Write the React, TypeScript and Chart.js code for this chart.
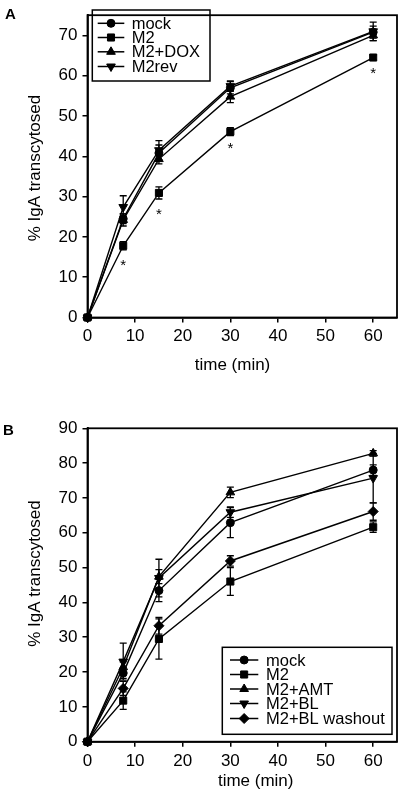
import React, { useEffect, useRef } from "react";
import { Chart, registerables } from "chart.js";

Chart.register(...registerables);

const FONT = '"Liberation Sans", Arial, Helvetica, sans-serif';

// ---------- data ----------
const timeMin = [0, 7.5, 15, 30, 60];
const xTickValues = [0, 10, 20, 30, 40, 50, 60];
const yTickValuesA = [0, 10, 20, 30, 40, 50, 60, 70];
const yTickValuesB = [0, 10, 20, 30, 40, 50, 60, 70, 80, 90];

// Panel A
const aMock = [0, 24.5, 40.8, 57.0, 70.8];
const aMockErr = [0, 1.2, 2.0, 1.5, 1.5];
const aM2 = [0, 17.8, 30.9, 46.1, 64.5];
const aM2Err = [0, 1.0, 1.5, 1.0, 0.6];
const aM2Dox = [0, 24.2, 39.3, 54.8, 70.0];
const aM2DoxErr = [0, 1.5, 1.2, 1.5, 1.3];
const aM2Rev = [0, 27.4, 41.5, 57.4, 71.0];
const aM2RevErr = [0, 2.8, 2.4, 1.3, 2.3];
const aStarTime = [7.5, 15, 30, 60];
const aStarValue = [13.8, 26.5, 43.0, 61.5];
const aYMax = 75;

// Panel B
const bMock = [0, 19.7, 43.4, 62.9, 78.0];
const bMockErr = [0, 1.5, 3.2, 4.3, 1.5];
const bM2 = [0, 11.8, 29.5, 46.0, 61.6];
const bM2Err = [0, 2.5, 5.8, 4.0, 1.5];
const bAmt = [0, 21.4, 47.4, 71.6, 82.8];
const bAmtErr = [0, 1.5, 2.0, 1.5, 0.8];
const bBl = [0, 23.0, 47.0, 65.9, 75.7];
const bBlErr = [0, 5.3, 5.4, 1.5, 7.1];
const bWash = [0, 15.3, 33.3, 51.9, 66.1];
const bWashErr = [0, 2.0, 2.4, 1.5, 2.5];
const bYMax = 90;

const xMax = 65;

const yTitle = "% IgA transcytosed";
const xTitle = "time (min)";

type Series = {
  label: string;
  values: number[];
  errors: number[];
  pointStyle: string;
  rotation: number;
  radius: number;
};

const seriesA: Series[] = [
  { label: "mock", values: aMock, errors: aMockErr, pointStyle: "circle", rotation: 0, radius: 4 },
  { label: "M2", values: aM2, errors: aM2Err, pointStyle: "rect", rotation: 0, radius: 5 },
  { label: "M2+DOX", values: aM2Dox, errors: aM2DoxErr, pointStyle: "triangle", rotation: 0, radius: 5 },
  { label: "M2rev", values: aM2Rev, errors: aM2RevErr, pointStyle: "triangle", rotation: 180, radius: 5 },
];

const seriesB: Series[] = [
  { label: "mock", values: bMock, errors: bMockErr, pointStyle: "circle", rotation: 0, radius: 4 },
  { label: "M2", values: bM2, errors: bM2Err, pointStyle: "rect", rotation: 0, radius: 5 },
  { label: "M2+AMT", values: bAmt, errors: bAmtErr, pointStyle: "triangle", rotation: 0, radius: 5 },
  { label: "M2+BL", values: bBl, errors: bBlErr, pointStyle: "triangle", rotation: 180, radius: 5 },
  { label: "M2+BL washout", values: bWash, errors: bWashErr, pointStyle: "rectRot", rotation: 0, radius: 5 },
];

type PanelCfg = {
  letter: string;
  letterPos: [number, number];
  series: Series[];
  yMax: number;
  yTicks: number[];
  height: number;
  padTop: number;
  padRight: number;
  yAxisWidth: number;
  xAxisHeight: number;
  yTitlePos: [number, number];
  xTitlePos: [number, number];
  legend: { box: [number, number, number, number]; rows: number[]; line: [number, number]; textX: number };
  stars?: { t: number[]; v: number[] };
};

const panelA: PanelCfg = {
  letter: "A",
  letterPos: [5, 18.5],
  series: seriesA,
  yMax: aYMax,
  yTicks: yTickValuesA,
  height: 385,
  padTop: 5,
  padRight: 4.5,
  yAxisWidth: 87.5,
  xAxisHeight: 67.5,
  yTitlePos: [35.5, 168],
  xTitlePos: [232.5, 365.5],
  legend: { box: [92.3, 10, 210, 81], rows: [23.3, 37.5, 51.8, 66.5], line: [97.7, 124.3], textX: 131.7 },
  stars: { t: aStarTime, v: aStarValue },
};

const panelB: PanelCfg = {
  letter: "B",
  letterPos: [3, 45],
  series: seriesB,
  yMax: bYMax,
  yTicks: yTickValuesB,
  height: 403,
  padTop: 38.3,
  padRight: 3,
  yAxisWidth: 87.5,
  xAxisHeight: 51.3,
  yTitlePos: [35.5, 183.5],
  xTitlePos: [255.7, 391.5],
  legend: { box: [222.3, 257.3, 392, 344.3], rows: [270, 284.5, 299, 313.5, 328.5], line: [230, 258.3], textX: 266 },
};

function markerPath(ctx: CanvasRenderingContext2D, style: string, rotation: number, r: number, x: number, y: number) {
  ctx.beginPath();
  if (style === "circle") {
    ctx.arc(x, y, r, 0, Math.PI * 2);
  } else if (style === "rect") {
    const s = Math.SQRT1_2 * r;
    ctx.rect(x - s, y - s, 2 * s, 2 * s);
  } else if (style === "rectRot") {
    ctx.moveTo(x, y - r);
    ctx.lineTo(x + r, y);
    ctx.lineTo(x, y + r);
    ctx.lineTo(x - r, y);
    ctx.closePath();
  } else if (style === "triangle") {
    let rad = (rotation * Math.PI) / 180;
    ctx.moveTo(x + Math.sin(rad) * r, y - Math.cos(rad) * r);
    rad += (2 * Math.PI) / 3;
    ctx.lineTo(x + Math.sin(rad) * r, y - Math.cos(rad) * r);
    rad += (2 * Math.PI) / 3;
    ctx.lineTo(x + Math.sin(rad) * r, y - Math.cos(rad) * r);
    ctx.closePath();
  }
  ctx.fill();
  ctx.stroke();
}

function buildConfig(cfg: PanelCfg): any {
  const datasets = cfg.series.map((s) => ({
    label: s.label,
    data: timeMin.map((t, i) => ({ x: t, y: s.values[i] })),
    borderColor: "#000",
    backgroundColor: "#000",
    borderWidth: 1.4,
    pointStyle: s.pointStyle,
    pointRotation: s.rotation,
    pointRadius: s.radius,
    pointBackgroundColor: "#000",
    pointBorderColor: "#000",
    pointBorderWidth: 1,
    tension: 0,
    clip: false,
  }));

  const errorBars = {
    id: "errorBars",
    beforeDatasetsDraw(chart: any) {
      const ctx = chart.ctx as CanvasRenderingContext2D;
      const xs = chart.scales.x;
      const ys = chart.scales.y;
      ctx.save();
      ctx.strokeStyle = "#000";
      ctx.lineWidth = 1.3;
      cfg.series.forEach((s) => {
        s.values.forEach((v, i) => {
          const e = s.errors[i];
          if (!e) return;
          const x = xs.getPixelForValue(timeMin[i]);
          const y1 = ys.getPixelForValue(v + e);
          const y2 = ys.getPixelForValue(v - e);
          ctx.beginPath();
          ctx.moveTo(x, y1);
          ctx.lineTo(x, y2);
          ctx.moveTo(x - 3.5, y1);
          ctx.lineTo(x + 3.5, y1);
          ctx.moveTo(x - 3.5, y2);
          ctx.lineTo(x + 3.5, y2);
          ctx.stroke();
        });
      });
      ctx.restore();
    },
  };

  const decor = {
    id: "decor",
    beforeDatasetsDraw(chart: any) {
      const ctx = chart.ctx as CanvasRenderingContext2D;
      const a = chart.chartArea;
      ctx.save();
      ctx.strokeStyle = "#000";
      ctx.lineWidth = 1.8;
      ctx.strokeRect(a.left, a.top, a.right - a.left, a.bottom - a.top);
      ctx.restore();
    },
    afterDraw(chart: any) {
      const ctx = chart.ctx as CanvasRenderingContext2D;
      const xs = chart.scales.x;
      const ys = chart.scales.y;
      ctx.save();
      ctx.fillStyle = "#000";
      ctx.strokeStyle = "#000";

      // panel letter
      ctx.font = `bold 15px ${FONT}`;
      ctx.textAlign = "left";
      ctx.textBaseline = "alphabetic";
      ctx.fillText(cfg.letter, cfg.letterPos[0], cfg.letterPos[1]);

      // axis titles
      ctx.font = `17px ${FONT}`;
      ctx.textAlign = "center";
      ctx.textBaseline = "middle";
      ctx.fillText(xTitle, cfg.xTitlePos[0], cfg.xTitlePos[1]);
      ctx.save();
      ctx.translate(cfg.yTitlePos[0], cfg.yTitlePos[1]);
      ctx.rotate(-Math.PI / 2);
      ctx.fillText(yTitle, 0, 0);
      ctx.restore();

      // significance stars
      if (cfg.stars) {
        ctx.font = `15px ${FONT}`;
        ctx.textAlign = "center";
        ctx.textBaseline = "alphabetic";
        cfg.stars.t.forEach((t, i) => {
          const x = xs.getPixelForValue(t);
          const y = ys.getPixelForValue(cfg.stars!.v[i]);
          ctx.fillText("*", x, y + 8.5);
        });
      }

      // legend
      const L = cfg.legend;
      ctx.lineWidth = 1.5;
      ctx.strokeRect(L.box[0], L.box[1], L.box[2] - L.box[0], L.box[3] - L.box[1]);
      ctx.font = `16.5px ${FONT}`;
      ctx.textAlign = "left";
      ctx.textBaseline = "middle";
      cfg.series.forEach((s, i) => {
        const y = L.rows[i];
        ctx.lineWidth = 1.5;
        ctx.beginPath();
        ctx.moveTo(L.line[0], y);
        ctx.lineTo(L.line[1], y);
        ctx.stroke();
        ctx.lineWidth = 1;
        markerPath(ctx, s.pointStyle, s.rotation, s.radius, (L.line[0] + L.line[1]) / 2, y);
        ctx.fillText(s.label, L.textX, y + 1);
      });
      ctx.restore();
    },
  };

  const tickFont = { family: FONT, size: 17 };

  return {
    type: "line",
    data: { datasets },
    options: {
      responsive: false,
      animation: false,
      devicePixelRatio: 1,
      layout: { padding: { top: cfg.padTop, right: cfg.padRight, left: 0, bottom: 0 } },
      plugins: { legend: { display: false }, tooltip: { enabled: false }, title: { display: false } },
      scales: {
        x: {
          type: "linear",
          min: 0,
          max: xMax,
          ticks: { color: "#000", font: tickFont, padding: 4, maxRotation: 0, autoSkip: false },
          afterBuildTicks: (s: any) => {
            s.ticks = xTickValues.map((v) => ({ value: v }));
          },
          afterFit: (s: any) => {
            s.height = cfg.xAxisHeight;
          },
          grid: { drawOnChartArea: false, drawTicks: true, tickLength: 5, color: "#000", lineWidth: 1.5 },
          border: { display: true, color: "#000", width: 1.8 },
        },
        y: {
          type: "linear",
          min: 0,
          max: cfg.yMax,
          ticks: { color: "#000", font: tickFont, padding: 5, autoSkip: false },
          afterBuildTicks: (s: any) => {
            s.ticks = cfg.yTicks.map((v) => ({ value: v }));
          },
          afterFit: (s: any) => {
            s.width = cfg.yAxisWidth;
          },
          grid: { drawOnChartArea: false, drawTicks: true, tickLength: 5, color: "#000", lineWidth: 1.5 },
          border: { display: true, color: "#000", width: 1.8 },
        },
      },
    },
    plugins: [decor, errorBars],
  };
}

function Panel({ cfg, top }: { cfg: PanelCfg; top: number }) {
  const ref = useRef<HTMLCanvasElement>(null);
  useEffect(() => {
    const chart = new Chart(ref.current as HTMLCanvasElement, buildConfig(cfg));
    return () => chart.destroy();
  }, [cfg]);
  return (
    <canvas
      ref={ref}
      width={403}
      height={cfg.height}
      style={{ position: "absolute", left: 0, top, width: 403, height: cfg.height }}
    />
  );
}

export default function App() {
  return (
    <div style={{ position: "absolute", left: 0, top: 0, width: 403, height: 793, background: "#fff" }}>
      <Panel cfg={panelA} top={0} />
      <Panel cfg={panelB} top={390} />
    </div>
  );
}
